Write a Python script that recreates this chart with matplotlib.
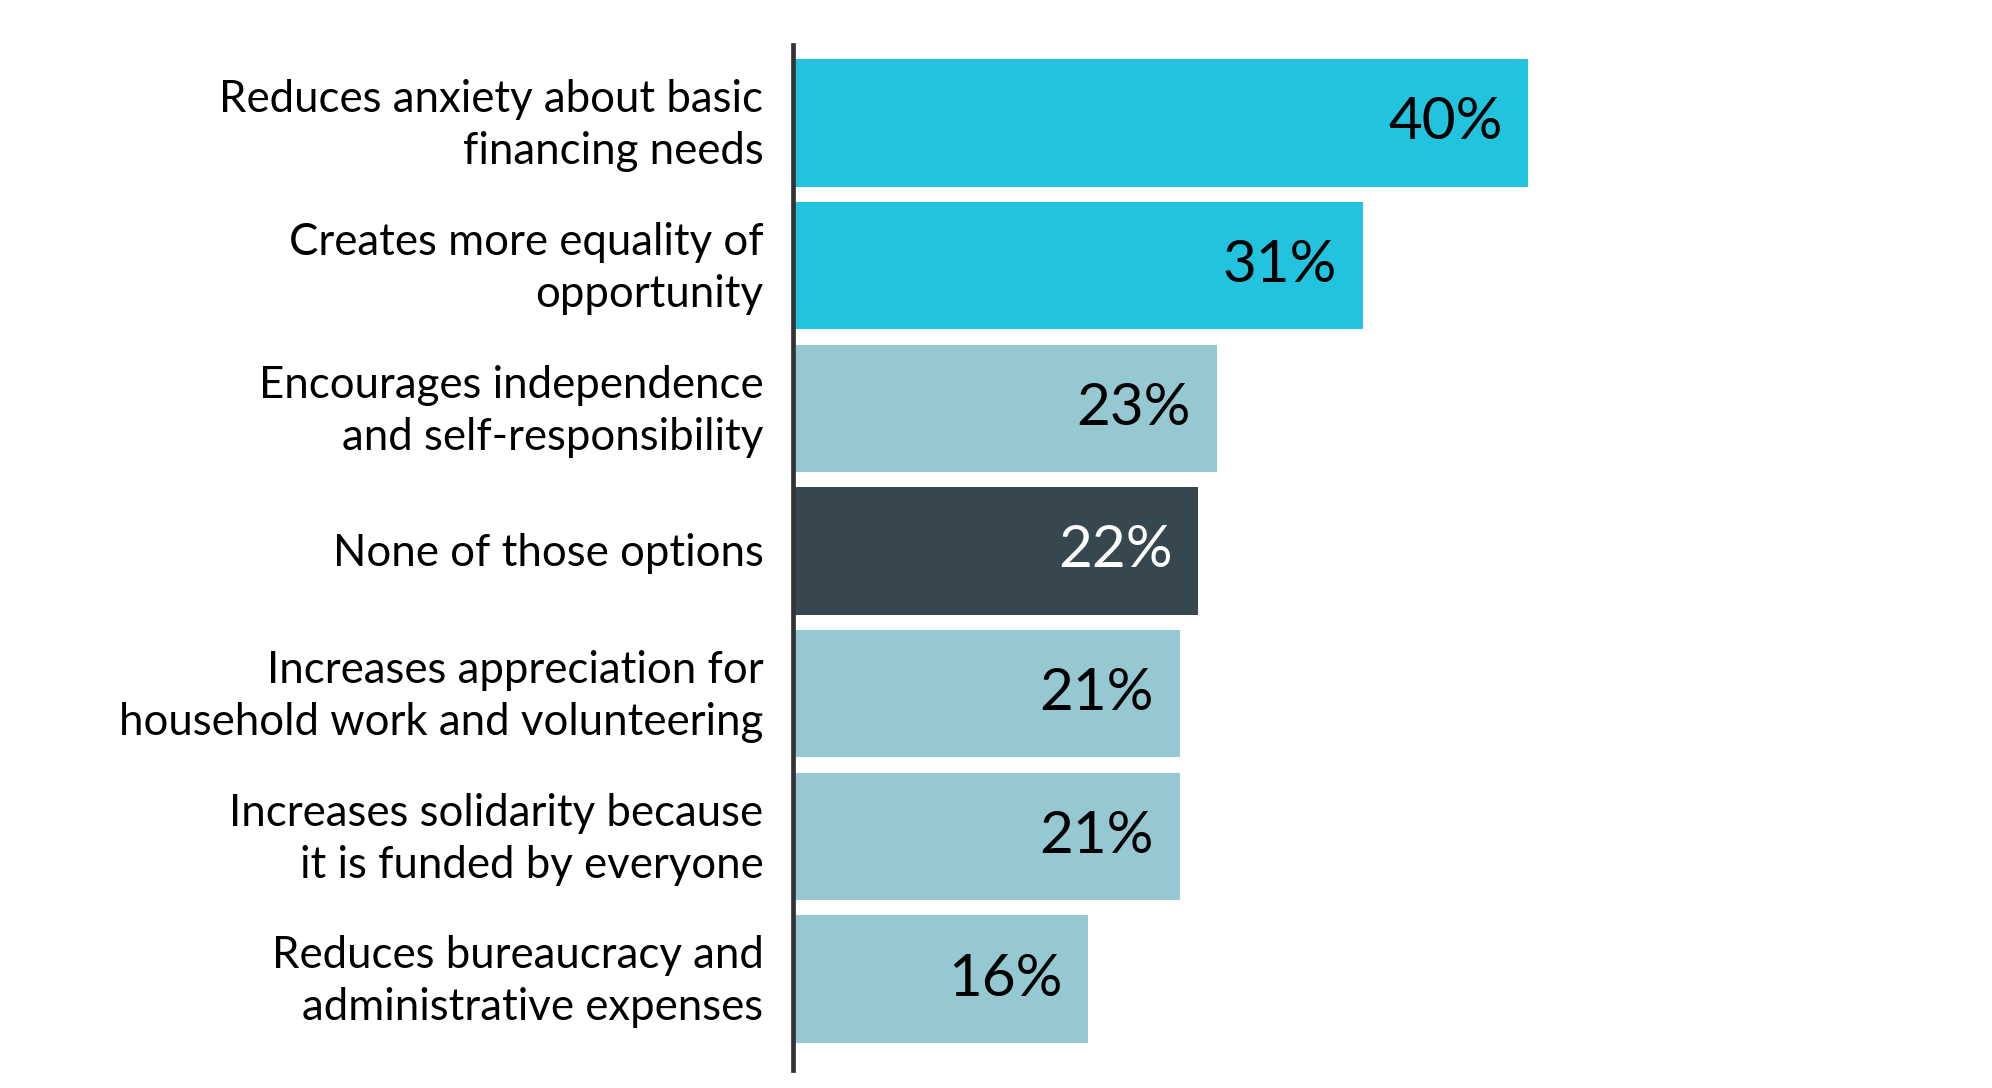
import matplotlib.pyplot as plt

categories = [
    "Reduces anxiety about basic\nfinancing needs",
    "Creates more equality of\nopportunity",
    "Encourages independence\nand self-responsibility",
    "None of those options",
    "Increases appreciation for\nhousehold work and volunteering",
    "Increases solidarity because\nit is funded by everyone",
    "Reduces bureaucracy and\nadministrative expenses",
]
values = [40, 31, 23, 22, 21, 21, 16]
colors = ["#22c3df", "#22c3df", "#96c8d2", "#37474f", "#96c8d2", "#96c8d2", "#96c8d2"]
label_colors = ["black", "black", "black", "white", "black", "black", "black"]

plt.rcParams['font.family'] = ['Lato', 'DejaVu Sans']

fig = plt.figure(figsize=(19.92, 10.88), dpi=100)
ax = fig.add_axes([0.398, 0.0, 0.55, 1.0])

pos = list(range(len(values)))
ax.barh(pos, values, height=0.894, color=colors, left=0.12)

# подписи значений внутри столбцов
for i, v in enumerate(values):
    ax.text(v - 1.3, i, f"{v}%", ha='right', va='center',
            fontsize=42, color=label_colors[i])

# подписи категорий слева от оси
for i, c in enumerate(categories):
    ax.text(-1.6, i + 0.02, c, ha='right', va='center', fontsize=31.5,
            linespacing=1.33, color='black')

ax.set_xlim(0, 59.75)
ax.set_ylim(6.764, -0.862)
ax.set_xticks([])
ax.set_yticks([])
for s in ['top', 'right', 'bottom']:
    ax.spines[s].set_visible(False)
ax.spines['left'].set_bounds(-0.547, 6.636)
ax.spines['left'].set_linewidth(3.4)
ax.spines['left'].set_color('#333333')
ax.spines['left'].set_zorder(5)

fig.savefig("out.png", dpi=100)
